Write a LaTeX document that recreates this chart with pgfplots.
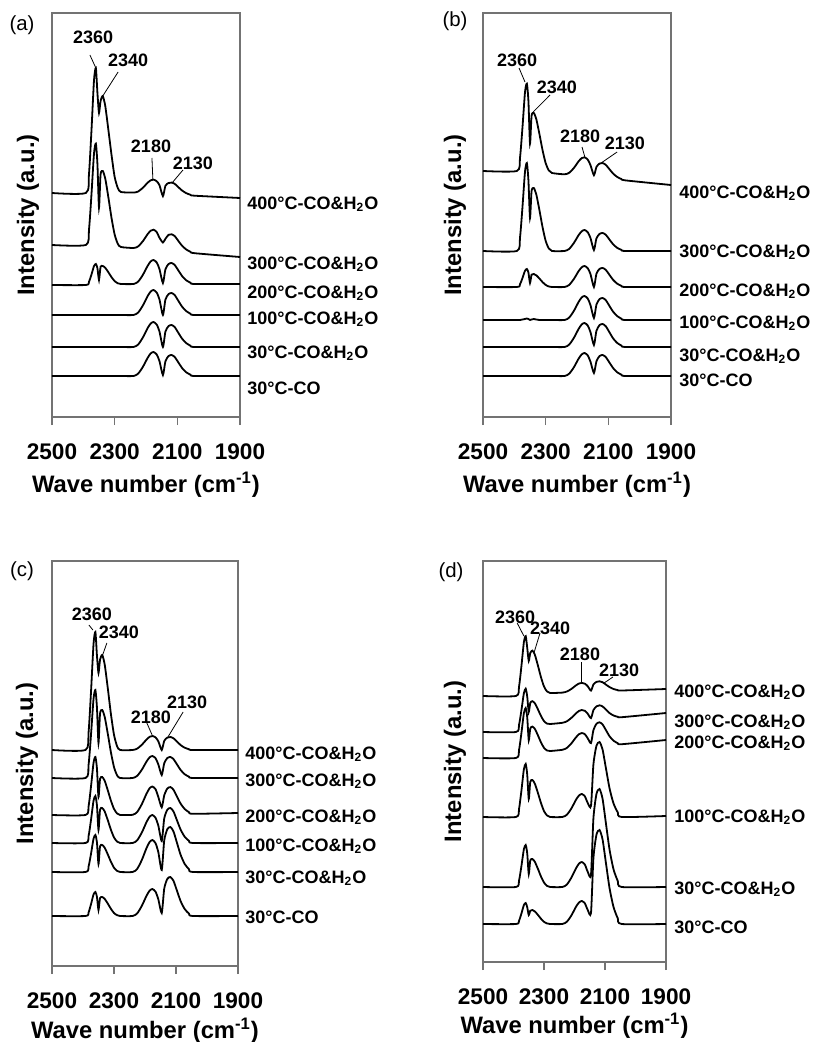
\documentclass[border=0pt]{standalone}
\usepackage{pgfplots}
\usepackage{pgfplotstable}
\pgfplotsset{compat=1.18}
\usepackage{fontspec}
\setmainfont{Liberation Sans}

\newcommand\ticfont{\fontsize{11.3}{13}\selectfont\bfseries}
\newcommand\labfont{\fontsize{11.9}{14}\selectfont\bfseries}
\newcommand\serfont{\fontsize{9}{11}\selectfont\bfseries}
\newcommand\pkfont{\fontsize{9}{10}\selectfont\bfseries}
\newcommand\panfont{\fontsize{10.2}{12}\selectfont}

\pgfplotsset{
  irpanel/.style={
    scale only axis, anchor=south west, clip=false,
    x dir=reverse, xmin=1900, xmax=2500, ymin=0,
    xtick={1900,2100,2300,2500}, xticklabels={1900,2100,2300,2500},
    ytick=\empty, xtick pos=left, tick align=outside, major tick length=4pt,
    axis line style={black!55, line width=0.6pt},
    tick style={black!55, line width=0.6pt},
    /pgf/number format/assume math mode=true,
    xticklabel style={font=\ticfont, yshift=-6pt},
  },
  trace/.style={black, line width=0.9pt, smooth, tension=0.4},
}
\tikzset{
  leader/.style={black, line width=0.4pt},
  serlab/.style={font=\serfont, anchor=base west, inner sep=0pt},
}

% columns: 400C, 300C, 200C, 100C, 30C CO+H2O, 30C CO (offset intensity, a.u.)
\pgfplotstableread{
w    t400  t300  t200  t100  t30w  t30
2500 224   172   132   102   70    41
2392 224   172   132   102   70    41
2382 242.8 187.1 135.2 102   70    41
2374 286.5 222.7 142.5 102   70    41
2366 336.5 263.3 150.9 102   70    41
2360 349   273.4 153   102   70    41
2355 324   252.9 148.8 102   70    41
2350 304   209.3 137   102   70    41
2345 316   242.5 150.1 102   70    41
2338 321   246   151   102   70    41
2330 311   238.4 149.2 102   70    41
2320 287   219.5 144.7 102   70    41
2310 262   199   139.8 102   70    41
2300 240   182.4 135.9 102   70    41
2290 229   173.2 133.7 102   70    41
2280 225   170   133   102   70    41
2240 224.4 169   133   102   70    41
2225 225.5 170.6 135.4 104.5 72.5  43.4
2210 229.2 175.8 142.1 111.5 79.5  50.1
2195 234.2 182.8 151   120.8 88.8  59
2185 236.7 186.3 155.6 125.5 93.5  63.6
2176 237.4 187.3 157   127   95    65
2166 235.8 185   154.6 124.5 92.5  62.6
2157 231.8 179.2 147.9 117.5 85.5  55.9
2146 220.9 174.5 134   102   70    42
2138 231.2 178.2 147.7 117.4 85.4  55.7
2128 234   182.2 153   122.9 90.9  61
2118 234.4 182.7 154   124   92    62
2108 233.1 180.8 151.9 121.8 89.8  59.9
2097 229.9 176.2 146.7 116.3 84.3  54.7
2085 226.5 171.3 141   110.4 78.4  49
2072 223.9 167.6 136.8 106   74    44.8
2058 222.2 165.2 134.3 103.3 71.3  42.3
2045 221.3 163.8 133   102   70    41
1900 219   160   133   102   70    41
}\tabA

\pgfplotstableread{
w    t400  t300  t200  t100  t30w  t30
2500 246   166   130   97    70    41
2392 246   166   130   97    70    41
2382 259   179.2 132.7 97    70    41
2374 289.7 210   139   97.5  70    41
2366 324.7 245.2 146.2 98    70    41
2360 333.4 254   148   98.5  70    41
2355 315.7 236.4 144.4 98    70    41
2350 273.3 199   134   97    70    41
2345 301.2 225.9 142.4 97.5  70    41
2338 304   229   143   98    70    41
2330 298   222.7 141.7 97.5  70    41
2320 283.1 207   138.5 97    70    41
2310 266.9 189.9 134.9 97    70    41
2300 253.8 176.1 132.1 97    70    41
2290 246.6 168.5 130.5 97    70    41
2280 244   166   130   97    70    41
2240 242.7 166   130   97    70    41
2225 244.2 168.1 132.1 99.4  72.4  43.3
2210 249   174   138   106.1 79.1  49.7
2195 255.6 181.8 145.8 115   88    58.3
2185 258.9 185.7 149.7 119.6 92.6  62.6
2176 259.7 187   151   121   94    64
2166 257.5 184.9 148.9 118.6 91.6  61.7
2157 251.9 179   143   111.9 84.9  55.3
2146 241.8 167   130   99    72    44
2138 250   178.6 143.3 112.4 86.1  55.7
2128 253.5 183.1 148.1 117.9 91.9  61
2118 253.9 184   149   119   93    62
2108 252.1 182.2 147.1 116.8 90.7  59.9
2097 248   177.7 142.4 111.3 85    54.7
2085 243.5 172.8 137.2 105.4 78.7  49
2072 240.1 169.2 133.4 101   74.1  44.8
2058 237.9 167.1 131.1 98.3  71.4  42.3
2045 236.6 166   130   97    70    41
1900 232   166   130   97    70    41
}\tabB

\pgfplotstableread{
w    t400  t300  t200  t100  t30w  t30
2500 216   188   151   123   94    50
2392 216   188   151   123   94    50
2382 233.7 201.2 159.7 130   99.6  53.6
2374 275   232   180   146.5 112.5 62
2366 322.2 267.2 203.2 165.3 127.3 71.6
2360 334   276   209   170   131   74
2355 310.4 258.4 197.4 160.6 123.6 69.2
2350 293   223   169   136   102   56
2345 306.3 252.6 187.1 156.3 119.7 68
2338 311   256   189   158   121   69
2330 301.5 249.2 185.2 154.5 118.3 67.1
2320 277.8 232.2 175.7 145.8 111.6 62.4
2310 252.1 213.8 165.4 136.3 104.3 57.2
2300 231.2 198.9 157.1 128.6 98.3  53
2290 219.8 190.7 152.5 124.4 95.1  50.8
2280 216   188   151   123   94    50
2240 216   188   151.2 123   94    50
2225 217.4 190.2 154.1 125.8 97.2  52.7
2210 221.3 196.4 162   133.6 106.2 60.3
2195 226.5 204.5 172.4 144   118   70.3
2185 229.2 208.7 177.8 149.3 124.1 75.4
2176 230   210   179.5 151   126   77
2166 228.6 207.8 176.8 148.2 122.8 74.3
2157 224.7 201.6 169   140.4 113.8 66.7
2146 216   191   158.7 125   96    53
2138 225.1 202.7 170.6 147.5 125.5 77.3
2128 228.4 208   177.5 156.3 136.8 87.1
2118 229   209   178.9 158   139   89
2108 227.7 206.9 176.2 154.5 134.5 85.1
2097 224.5 201.7 169.5 145.8 123.3 75.4
2085 220.9 196   162.3 136.3 111.1 64.8
2072 218.3 191.8 157   129.3 102.1 57
2058 216.8 189.3 153.8 125.1 96.7  52.3
2045 216   188   152.2 123   94    50
1900 216   188   153   123   94    50
}\tabC

\pgfplotstableread{
w    t400  t300  t200  t100  t30w  t30
2500 266   230   204   145   75    38
2392 266   230   204   145   75    38
2382 275.2 236.9 211.8 153   81.3  41.2
2374 296   251.8 229.1 171.5 96    48.5
2366 319.8 268.7 248.8 192.7 112.8 56.9
2360 325.9 273.3 254   198   117   59
2355 314.2 265.4 244.7 187.4 108.6 54.8
2350 301.1 250   221.6 163   88    47
2345 309.1 259.1 233.5 180.2 101.6 51.3
2338 311.4 260.8 235.4 182   103   52
2330 307.3 258.7 233.1 178.3 100.2 50.6
2320 296.5 252.7 226.7 169.1 93.2  47.1
2310 284.9 246.1 219.7 159.1 85.6  43.3
2300 275.5 240.9 214.2 150.9 79.5  40.2
2290 270.5 238.4 211.5 146.5 76.1  38.6
2280 269   238   211   145   75    38
2240 269.4 239.2 212.2 145   75    38
2225 270.5 240.7 214.1 147.3 77.5  40.3
2210 273.1 244.2 218.7 153.7 84.5  46.7
2195 276.7 248.7 224.7 162.3 93.8  55.3
2185 278.5 251.1 227.9 166.6 98.5  59.6
2176 279.1 252   229   168   100   61
2166 278.3 251.2 227.8 165.7 97.5  58.7
2157 275.9 248.4 223.9 159.3 90.5  52.3
2146 271.4 243.9 218.9 156   87    49
2138 277.5 251.9 231.9 197.5 143.6 103.8
2128 280.1 255.7 238.2 216.3 168.1 127.3
2118 280.7 256.7 239.7 220   173   132
2108 279.8 255.6 237.6 212.5 163.2 122.6
2097 277.4 252.4 231.9 193.8 138.7 99.1
2085 274.9 248.9 225.7 173.5 112.2 73.7
2072 273   246.5 221.3 158.5 92.6  54.9
2058 271.9 245.2 218.8 149.5 80.9  43.6
2045 271.5 244.8 217.8 145   75    38
1900 273   249   222   146   75    38
}\tabD

\begin{document}
\begin{tikzpicture}
\useasboundingbox (0,0) rectangle (407pt,-521pt);

% ---------------- (a)
\begin{axis}[irpanel, at={(26pt,-208.5pt)}, width=94pt, height=202pt, ymax=404]
\pgfplotsinvokeforeach{t400,t300,t200,t100,t30w,t30}{
  \addplot[trace] table[x=w, y=#1] {\tabA};
}
\node[serlab] at ([xshift=3.5pt]axis cs:1900,207.5) {400°C-CO\&H\textsubscript{2}O};
\node[serlab] at ([xshift=3.5pt]axis cs:1900,147.5) {300°C-CO\&H\textsubscript{2}O};
\node[serlab] at ([xshift=3.5pt]axis cs:1900,118.5) {200°C-CO\&H\textsubscript{2}O};
\node[serlab] at ([xshift=3.5pt]axis cs:1900,92.5) {100°C-CO\&H\textsubscript{2}O};
\node[serlab] at ([xshift=3.5pt]axis cs:1900,58.5) {30°C-CO\&H\textsubscript{2}O};
\node[serlab] at ([xshift=3.5pt]axis cs:1900,22.5) {30°C-CO};
\draw[leader] (axis cs:2379,362) -- (axis cs:2360,349);
\node[font=\pkfont] at (axis cs:2369,380) {2360};
\draw[leader] (axis cs:2289,345) -- (axis cs:2340,320);
\node[font=\pkfont] at (axis cs:2257,357) {2340};
\draw[leader] (axis cs:2181,259) -- (axis cs:2178,237);
\node[font=\pkfont] at (axis cs:2184,271) {2180};
\draw[leader] (axis cs:2082,247) -- (axis cs:2117,234);
\node[font=\pkfont] at (axis cs:2050,254) {2130};
\node[font=\labfont, rotate=90] at ([xshift=-12pt]rel axis cs:0,0.5) {Intensity (a.u.)};
\node[font=\labfont] at ([yshift=-34pt]rel axis cs:0.5,0) {Wave number (cm\textsuperscript{-1})};
\end{axis}

% ---------------- (b)
\begin{axis}[irpanel, at={(241.5pt,-208.5pt)}, width=94pt, height=202pt, ymax=404]
\pgfplotsinvokeforeach{t400,t300,t200,t100,t30w,t30}{
  \addplot[trace] table[x=w, y=#1] {\tabB};
}
\node[serlab] at ([xshift=4pt]axis cs:1900,218.5) {400°C-CO\&H\textsubscript{2}O};
\node[serlab] at ([xshift=4pt]axis cs:1900,159.5) {300°C-CO\&H\textsubscript{2}O};
\node[serlab] at ([xshift=4pt]axis cs:1900,120.5) {200°C-CO\&H\textsubscript{2}O};
\node[serlab] at ([xshift=4pt]axis cs:1900,88.5) {100°C-CO\&H\textsubscript{2}O};
\node[serlab] at ([xshift=4pt]axis cs:1900,55.5) {30°C-CO\&H\textsubscript{2}O};
\node[serlab] at ([xshift=4pt]axis cs:1900,30.5) {30°C-CO};
\draw[leader] (axis cs:2385,349) -- (axis cs:2366,335);
\node[font=\pkfont] at (axis cs:2391,357) {2360};
\draw[leader] (axis cs:2286,322) -- (axis cs:2340,305);
\node[font=\pkfont] at (axis cs:2264,330) {2340};
\draw[leader] (axis cs:2184,270) -- (axis cs:2175,260);
\node[font=\pkfont] at (axis cs:2190,281) {2180};
\draw[leader] (axis cs:2072,265) -- (axis cs:2123,254);
\node[font=\pkfont] at (axis cs:2047,274) {2130};
\node[font=\labfont, rotate=90] at ([xshift=-14pt]rel axis cs:0,0.5) {Intensity (a.u.)};
\node[font=\labfont] at ([yshift=-34pt]rel axis cs:0.5,0) {Wave number (cm\textsuperscript{-1})};
\end{axis}

% ---------------- (c)
\begin{axis}[irpanel, at={(26pt,-483pt)}, width=93pt, height=202.5pt, ymax=405]
\pgfplotsinvokeforeach{t400,t300,t200,t100,t30w,t30}{
  \addplot[trace] table[x=w, y=#1] {\tabC};
}
\node[serlab] at ([xshift=3.5pt]axis cs:1900,206.5) {400°C-CO\&H\textsubscript{2}O};
\node[serlab] at ([xshift=3.5pt]axis cs:1900,179.5) {300°C-CO\&H\textsubscript{2}O};
\node[serlab] at ([xshift=3.5pt]axis cs:1900,143.5) {200°C-CO\&H\textsubscript{2}O};
\node[serlab] at ([xshift=3.5pt]axis cs:1900,114.5) {100°C-CO\&H\textsubscript{2}O};
\node[serlab] at ([xshift=3.5pt]axis cs:1900,82.5) {30°C-CO\&H\textsubscript{2}O};
\node[serlab] at ([xshift=3.5pt]axis cs:1900,42.5) {30°C-CO};
\draw[leader] (axis cs:2381,341) -- (axis cs:2368,336);
\node[font=\pkfont] at (axis cs:2371,352) {2360};
\draw[leader] (axis cs:2323,323) -- (axis cs:2339,309);
\node[font=\pkfont] at (axis cs:2284,334) {2340};
\draw[leader] (axis cs:2194,243) -- (axis cs:2177,231);
\node[font=\pkfont] at (axis cs:2181,249) {2180};
\draw[leader] (axis cs:2077,254) -- (axis cs:2126,229);
\node[font=\pkfont] at (axis cs:2064,264) {2130};
\node[font=\labfont, rotate=90] at ([xshift=-12.5pt]rel axis cs:0,0.5) {Intensity (a.u.)};
\node[font=\labfont] at ([yshift=-32.5pt]rel axis cs:0.5,0) {Wave number (cm\textsuperscript{-1})};
\end{axis}

% ---------------- (d)
\begin{axis}[irpanel, at={(241.5pt,-481pt)}, width=91.5pt, height=200.5pt, ymax=401]
\pgfplotsinvokeforeach{t400,t300,t200,t100,t30w,t30}{
  \addplot[trace] table[x=w, y=#1] {\tabD};
}
\node[serlab] at ([xshift=4pt]axis cs:1900,264.5) {400°C-CO\&H\textsubscript{2}O};
\node[serlab] at ([xshift=4pt]axis cs:1900,234.5) {300°C-CO\&H\textsubscript{2}O};
\node[serlab] at ([xshift=4pt]axis cs:1900,213.5) {200°C-CO\&H\textsubscript{2}O};
\node[serlab] at ([xshift=4pt]axis cs:1900,139.5) {100°C-CO\&H\textsubscript{2}O};
\node[serlab] at ([xshift=4pt]axis cs:1900,67.5) {30°C-CO\&H\textsubscript{2}O};
\node[serlab] at ([xshift=4pt]axis cs:1900,28.5) {30°C-CO};
\draw[leader] (axis cs:2388,339) -- (axis cs:2366,326);
\node[font=\pkfont] at (axis cs:2395,345) {2360};
\draw[leader] (axis cs:2313,329) -- (axis cs:2333,309);
\node[font=\pkfont] at (axis cs:2280,334) {2340};
\draw[leader] (axis cs:2179,300) -- (axis cs:2179,279);
\node[font=\pkfont] at (axis cs:2182,308) {2180};
\draw[leader] (axis cs:2074,285) -- (axis cs:2103,279);
\node[font=\pkfont] at (axis cs:2054,292) {2130};
\node[font=\labfont, rotate=90] at ([xshift=-14pt]rel axis cs:0,0.5) {Intensity (a.u.)};
\node[font=\labfont] at ([yshift=-32pt]rel axis cs:0.5,0) {Wave number (cm\textsuperscript{-1})};
\end{axis}

\node[font=\panfont] at (11pt,-12.5pt) {(a)};
\node[font=\panfont] at (227.5pt,-10.5pt) {(b)};
\node[font=\panfont] at (11pt,-285.5pt) {(c)};
\node[font=\panfont] at (225.5pt,-286pt) {(d)};
\end{tikzpicture}
\end{document}
